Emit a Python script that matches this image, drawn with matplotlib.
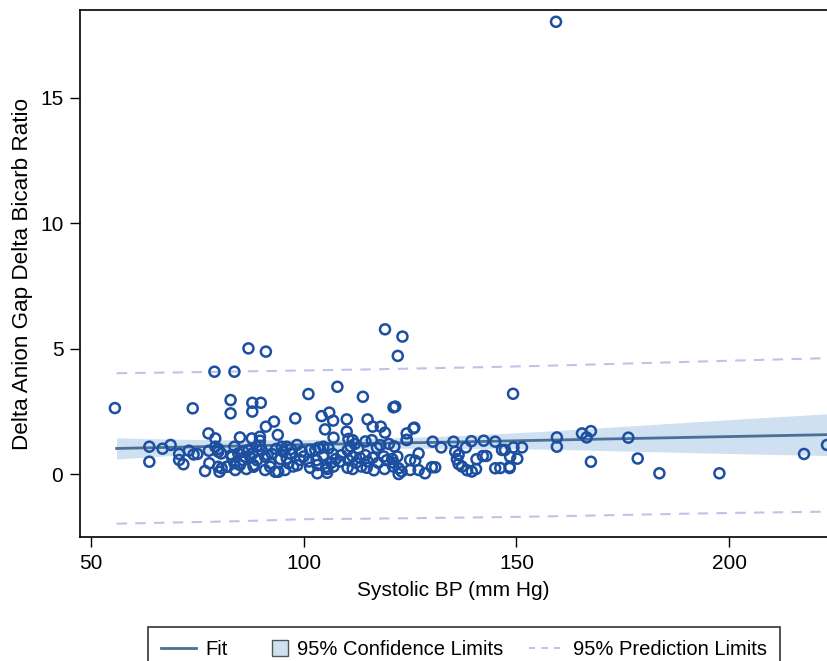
import matplotlib
matplotlib.use("Agg")
import matplotlib.pyplot as plt
from matplotlib.lines import Line2D
from matplotlib.patches import Patch, Rectangle
from matplotlib.legend_handler import HandlerPatch

plt.rcParams['font.family'] = ['Liberation Sans', 'DejaVu Sans']

# Scatter data (Systolic BP, ratio)
sbp = [55.6, 63.7, 63.7, 66.8, 68.7, 70.7, 70.7, 71.7, 73.0, 74.1, 75.0, 73.9,
       76.8, 77.6, 77.7, 77.8, 79.0, 79.2, 79.2, 79.9, 79.9, 80.2, 80.7, 79.9,
       81.9, 82.8, 82.8, 83.1, 83.7, 83.7, 83.7, 83.9, 85.0, 85.8, 86.2, 82.1, 84.6, 85.6, 85.0, 80.6, 83.1,
       87.0, 87.8, 87.9, 87.9, 88.0, 88.2, 88.9, 89.7, 89.7, 89.7, 89.9, 91.1, 91.1, 90.9, 87.0, 87.4, 88.2,
       90.9, 90.1, 91.5, 89.0, 86.5,
       92.1, 92.2, 93.0, 93.9, 94.0, 94.8, 95.2, 96.0, 96.0, 96.4, 96.9, 98.0, 98.4, 99.1, 93.3, 95.6,
       92.5, 93.5, 94.5, 97.5, 97.0, 99.5, 98.5,
       101.1, 107.9, 113.9, 121.1, 104.2, 106.0, 106.9, 105.0, 110.1, 110.1, 115.0, 116.2, 118.1, 119.1,
       107.0, 101.5, 102.7, 103.4, 104.6, 105.8, 110.5, 111.5, 111.0, 110.3, 112.0, 112.8, 114.5,
       116.0, 117.2, 118.0, 120.0, 121.3,
       100.0, 101.2, 103.0, 104.6, 106.5, 106.8, 107.5, 108.5, 108.8, 110.5, 111.5, 112.3, 113.2,
       114.5, 115.0, 116.2, 117.5, 118.8, 119.5, 120.8, 122.0,
       101.5, 105.5, 105.5, 107.0, 110.3, 111.5, 113.5, 114.8, 116.5, 119.0, 121.0, 123.0,
       103.2, 103.2, 103.8, 105.3,
       119.1, 123.2, 122.1, 121.5, 125.8, 124.2, 124.2, 126.0, 124.2,
       130.3, 132.3, 135.2, 139.4, 142.3, 145.0, 138.1, 135.6, 136.4, 136.0, 140.6, 142.1, 142.9,
       127.0, 125.0, 126.2, 122.3, 122.3, 125.0, 127.0, 128.5, 130.1, 130.9,
       136.4, 137.2, 138.4, 139.5, 140.5, 145.0, 146.6, 121.1,
       149.2, 147.3, 149.3, 151.3, 148.5, 150.2, 148.4, 148.4, 146.2,
       159.3, 159.5, 159.5, 165.4, 166.5, 167.5, 167.5, 176.3, 178.5, 183.6, 197.7, 217.6, 223.0]
ratio = [2.63, 1.09, 0.49, 1.01, 1.16, 0.80, 0.56, 0.39, 0.93, 0.78, 0.80, 2.62,
         0.12, 1.62, 0.93, 0.43, 4.08, 1.42, 1.09, 0.89, 0.29, 0.09, 0.23, 1.00,
         0.29, 2.95, 2.42, 0.76, 4.08, 1.09, 0.43, 0.16, 1.46, 0.89, 0.69, 0.29, 0.82, 0.56, 0.36, 0.82, 0.69,
         5.01, 1.42, 2.84, 2.49, 0.82, 0.36, 1.09, 1.49, 1.33, 1.13, 2.84, 4.88, 1.89, 0.69, 0.96, 0.69, 0.29,
         0.16, 0.95, 0.75, 0.55, 0.20,
         0.29, 0.43, 2.09, 1.56, 0.09, 1.09, 0.89, 1.09, 0.62, 0.43, 0.82, 2.22, 1.16, 0.56, 0.09, 0.16,
         0.80, 1.00, 0.60, 0.30, 1.00, 0.90, 0.35,
         3.19, 3.48, 3.08, 2.66, 2.31, 2.45, 2.13, 1.78, 2.18, 1.69, 2.18, 1.89, 1.89, 1.65,
         1.45, 0.96, 0.96, 1.05, 1.09, 1.02, 1.40, 1.35, 1.10, 0.95, 1.20, 1.00, 1.30,
         1.35, 1.05, 1.15, 1.20, 1.10,
         0.70, 0.50, 0.55, 0.75, 0.45, 0.80, 0.60, 0.50, 0.75, 0.55, 0.70, 0.45, 0.65,
         0.75, 0.50, 0.65, 0.45, 0.70, 0.55, 0.60, 0.70,
         0.25, 0.20, 0.05, 0.30, 0.25, 0.20, 0.30, 0.25, 0.15, 0.20, 0.30, 0.10,
         0.03, 0.36, 1.02, 0.29,
         5.77, 5.48, 4.71, 2.69, 1.82, 1.62, 1.36, 1.85, 1.36,
         1.29, 1.06, 1.29, 1.31, 1.33, 1.29, 1.06, 0.89, 0.76, 0.59, 0.59, 0.72, 0.72,
         0.82, 0.56, 0.53, 0.23, 0.00, 0.16, 0.16, 0.03, 0.27, 0.27,
         0.40, 0.30, 0.15, 0.10, 0.20, 0.23, 0.96, 0.45,
         3.20, 0.96, 1.06, 1.06, 0.69, 0.61, 0.29, 0.24, 0.24,
         18.03, 1.46, 1.09, 1.62, 1.46, 1.71, 0.49, 1.45, 0.62, 0.03, 0.03, 0.80, 1.16]

# Fit and limits read at selected SBP values
band_x = [56, 70, 85, 100, 115, 130, 145, 160, 175, 190, 205, 223]
fit_y = [1.02, 1.07, 1.12, 1.17, 1.22, 1.26, 1.31, 1.36, 1.41, 1.46, 1.51, 1.57]
cl_lower = [0.60, 0.75, 0.88, 0.97, 1.02, 1.03, 1.02, 0.98, 0.92, 0.86, 0.80, 0.74]
cl_upper = [1.44, 1.39, 1.36, 1.37, 1.42, 1.49, 1.60, 1.74, 1.90, 2.06, 2.22, 2.40]
pl_lower = [-1.98, -1.93, -1.88, -1.80, -1.78, -1.75, -1.72, -1.68, -1.63, -1.58, -1.54, -1.50]
pl_upper = [4.02, 4.05, 4.09, 4.13, 4.17, 4.22, 4.27, 4.33, 4.40, 4.47, 4.54, 4.62]

fig = plt.figure(figsize=(8.27, 6.61), dpi=100)
ax = fig.add_axes([80/827, 1-537/661, 1-80/827, (537-10)/661])

ci_col = '#cfe0f1'
fit_col = '#4b6f95'
pl_col = '#bfc3e6'
pt_col = '#1c4fa0'

ax.fill_between(band_x, cl_lower, cl_upper, color=ci_col, lw=0, zorder=1)
ax.plot(band_x, fit_y, color=fit_col, lw=2, zorder=2)
ax.plot(band_x, pl_lower, color=pl_col, lw=1.5, ls=(0, (5, 4)), zorder=2)
ax.plot(band_x, pl_upper, color=pl_col, lw=1.5, ls=(0, (5, 4)), zorder=2)
ax.scatter(sbp, ratio, s=52, facecolors='none', edgecolors=pt_col, linewidths=1.8, zorder=3)

ax.set_xlim(47.4, 223.0)
ax.set_ylim(-2.51, 18.5)
ax.set_xticks([50, 100, 150, 200])
ax.set_yticks([0, 5, 10, 15])
ax.tick_params(direction='out', length=7, width=1, labelsize=15, pad=5)
ax.spines['right'].set_visible(False)
for s in ['left', 'top', 'bottom']:
    ax.spines[s].set_linewidth(1.2)
ax.set_xlabel('Systolic BP (mm Hg)', fontsize=15, labelpad=6)
ax.set_ylabel('Delta Anion Gap Delta Bicarb Ratio', fontsize=16.2, labelpad=5)


def square_patch(legend, orig_handle, xdescent, ydescent, width, height, fontsize):
    side = height * 1.05
    return Rectangle((width - side - xdescent, -ydescent + (height - side) / 2), side, side)


handles = [Line2D([0], [0], color=fit_col, lw=2),
           Patch(facecolor=ci_col, edgecolor='#555555', lw=1),
           Line2D([0], [0], color=pl_col, lw=1.5, ls=(0, (3, 3)))]
labels = ['Fit', '95% Confidence Limits', '95% Prediction Limits']
leg = fig.legend(handles, labels, loc='upper left', bbox_to_anchor=(148/827, 1-627/661),
                 ncol=3, fontsize=14.5, frameon=True, fancybox=False, edgecolor='black',
                 handlelength=1.75, handleheight=0.8, columnspacing=1.25, handletextpad=0.45,
                 borderpad=0.65, borderaxespad=0,
                 handler_map={Patch: HandlerPatch(patch_func=square_patch)})
leg.get_frame().set_linewidth(1.2)

fig.savefig('out.png', dpi=100)
